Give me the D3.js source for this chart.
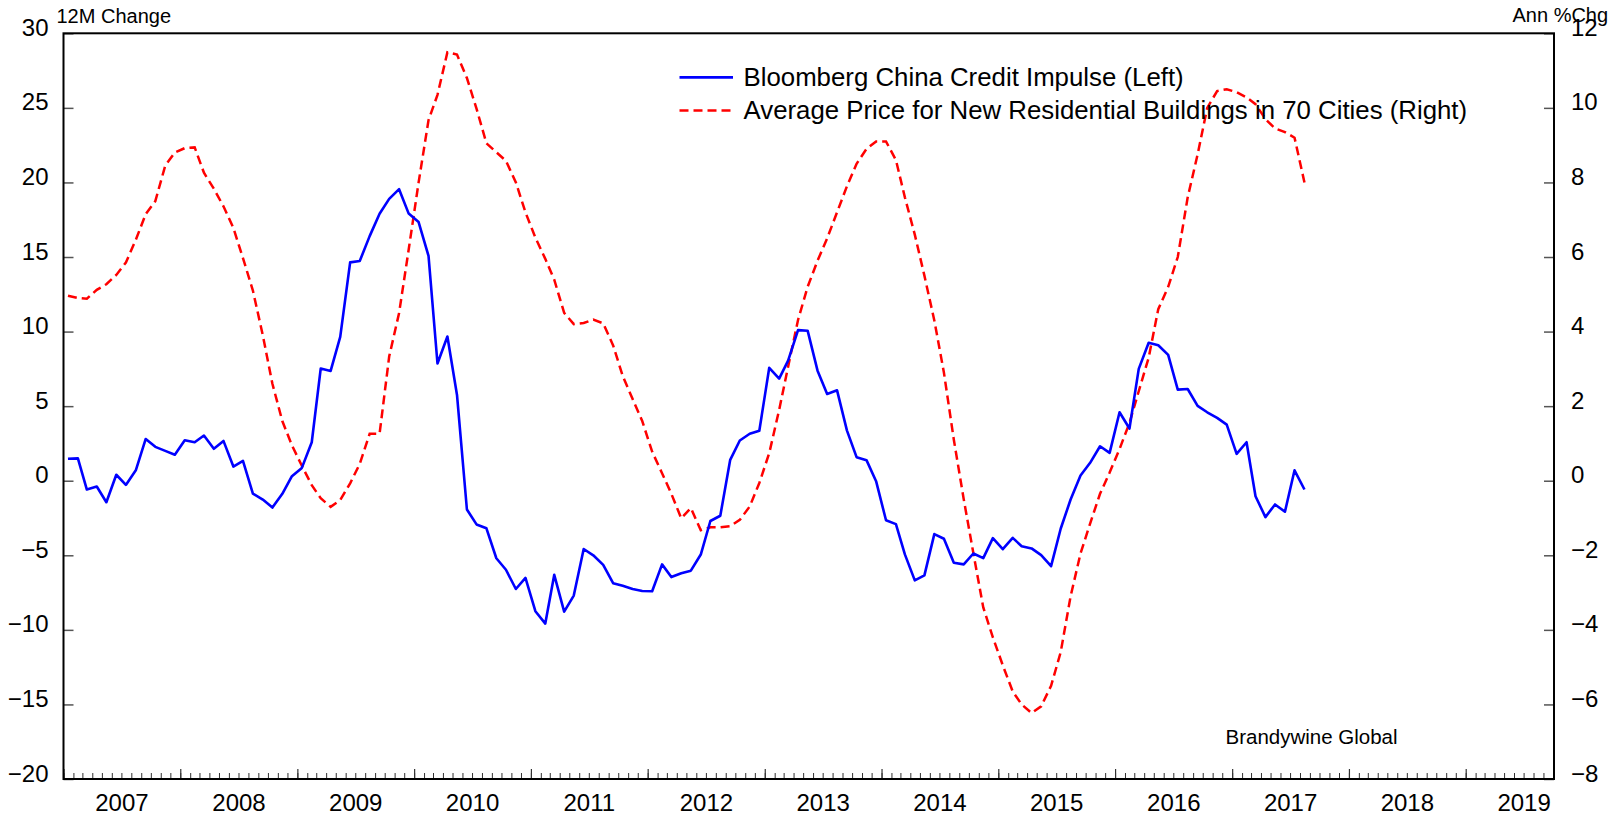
<!DOCTYPE html>
<html><head><meta charset="utf-8">
<script src="https://cdn.jsdelivr.net/npm/d3@7"></script>
<style>
html,body{margin:0;padding:0;background:#fff;}
text{font-family:"Liberation Sans",Arial,sans-serif;fill:#000;}
</style></head>
<body>
<svg id="chart" width="1619" height="821"></svg>
<script>
// ---- data (monthly, Jan 2007 .. Aug 2017) ----
const startYear = 2007, startMonth = 0;
const creditImpulse = [
 1.47,1.5,-0.59,-0.39,-1.44,0.4,-0.28,0.7,2.8,2.27,2.0,1.74,
 2.71,2.58,3.03,2.14,2.67,0.95,1.33,-0.86,-1.26,-1.8,-0.88,0.3,
 0.86,2.58,7.52,7.36,9.64,14.64,14.73,16.4,17.9,18.9,19.55,17.91,
 17.34,15.07,7.86,9.67,5.75,-1.93,-2.93,-3.19,-5.2,-5.97,-7.26,-6.52,
 -8.75,-9.58,-6.31,-8.78,-7.7,-4.58,-5.0,-5.64,-6.87,-7.05,-7.26,-7.39,
 -7.41,-5.61,-6.46,-6.2,-6.03,-4.95,-2.7,-2.35,1.4,2.7,3.15,3.35,
 7.57,6.85,8.05,10.1,10.06,7.38,5.82,6.06,3.36,1.58,1.38,-0.03,
 -2.65,-2.91,-4.94,-6.68,-6.35,-3.58,-3.89,-5.5,-5.61,-4.88,-5.19,-3.85,
 -4.59,-3.83,-4.39,-4.54,-4.99,-5.73,-3.22,-1.26,0.35,1.2,2.31,1.87,
 4.59,3.5,7.5,9.25,9.08,8.44,6.11,6.15,5.02,4.59,4.21,3.76,
 1.8,2.58,-1.04,-2.44,-1.59,-2.08,0.7,-0.59
];
const housePrice = [
 4.96,4.9,4.88,5.12,5.27,5.52,5.85,6.46,7.15,7.5,8.45,8.8,
 8.92,8.94,8.26,7.83,7.36,6.78,5.97,5.1,3.9,2.6,1.6,0.95,
 0.4,-0.12,-0.47,-0.7,-0.52,-0.07,0.45,1.26,1.26,3.33,4.5,6.2,
 8.0,9.67,10.35,11.49,11.43,10.8,9.98,9.05,8.81,8.58,8.0,7.2,
 6.52,5.95,5.39,4.5,4.2,4.23,4.32,4.22,3.63,2.81,2.19,1.6,
 0.78,0.2,-0.35,-1.01,-0.73,-1.33,-1.25,-1.25,-1.22,-1.05,-0.69,-0.06,
 0.74,1.9,3.06,4.31,5.2,5.9,6.5,7.2,7.9,8.5,8.9,9.1,
 9.1,8.6,7.6,6.6,5.5,4.3,2.9,1.1,-0.5,-1.94,-3.4,-4.2,
 -4.95,-5.65,-6.0,-6.23,-6.05,-5.5,-4.6,-3.1,-1.95,-1.15,-0.35,0.22,
 0.85,1.55,2.4,3.3,4.6,5.2,6.0,7.6,8.75,10.0,10.45,10.5,
 10.42,10.28,10.1,9.7,9.45,9.35,9.2,8.0
];
const leftTicks = [-20,-15,-10,-5,0,5,10,15,20,25,30];
const rightTicks = [-8,-6,-4,-2,0,2,4,6,8,10,12];
const yearLabels = [2007,2008,2009,2010,2011,2012,2013,2014,2015,2016,2017,2018,2019];
const seriesNames = ["Bloomberg China Credit Impulse (Left)","Average Price for New Residential Buildings in 70 Cities (Right)"];

// ---- layout ----
const L = 63.5, R = 1554, T = 33.3, B = 779;
const svg = d3.select("#chart");

const x = d3.scaleTime().domain([new Date(2007,0,1), new Date(2019,9,4)]).range([L,R]);
const yL = d3.scaleLinear().domain([-20,30]).range([B,T]);
const yR = d3.scaleLinear().domain([-8,12]).range([B,T]);

const dateOf = i => new Date(startYear, startMonth + i, 15);

// axes: left
const gL = svg.append("g").attr("transform",`translate(${L},0)`)
  .call(d3.axisLeft(yL).tickValues(leftTicks).tickSizeInner(-10).tickSizeOuter(0).tickPadding(15));
gL.select(".domain").remove();
gL.selectAll(".tick line").attr("stroke","#555").attr("stroke-width",1.5);
gL.selectAll(".tick text").attr("dy","2px").style("font-size","24px").attr("fill","#000");

// right
const gR = svg.append("g").attr("transform",`translate(${R},0)`)
  .call(d3.axisRight(yR).tickValues(rightTicks).tickSizeInner(-10).tickSizeOuter(0).tickPadding(17));
gR.select(".domain").remove();
gR.selectAll(".tick line").attr("stroke","#555").attr("stroke-width",1.5);
gR.selectAll(".tick text").attr("dy","2px").style("font-size","24px").attr("fill","#000");

// bottom minor (monthly) ticks
const gMin = svg.append("g").attr("transform",`translate(0,${B})`)
  .call(d3.axisBottom(x).ticks(d3.timeMonth.every(1)).tickSizeInner(-6).tickSizeOuter(0).tickFormat(""));
gMin.select(".domain").remove();
gMin.selectAll(".tick line").attr("stroke","#333").attr("stroke-width",1);
// major (yearly)
const gMaj = svg.append("g").attr("transform",`translate(0,${B})`)
  .call(d3.axisBottom(x).ticks(d3.timeYear.every(1)).tickSizeInner(-10).tickSizeOuter(0).tickFormat(""));
gMaj.select(".domain").remove();
gMaj.selectAll(".tick line").attr("stroke","#333").attr("stroke-width",1.2);
// year labels centred mid-year
const gLab = svg.append("g").attr("transform",`translate(0,${B})`)
  .call(d3.axisBottom(x).tickValues(yearLabels.map(y=>new Date(y,6,1))).tickSize(0).tickPadding(0).tickFormat(d3.timeFormat("%Y")));
gLab.select(".domain").remove();
gLab.selectAll(".tick text").attr("dy",null).attr("y",32).style("font-size","24px").attr("fill","#000");

// frame
svg.append("rect").attr("x",L).attr("y",T).attr("width",R-L).attr("height",B-T)
  .attr("fill","none").attr("stroke","#000").attr("stroke-width",2);

// lines
const blueLine = d3.line().x((d,i)=>x(dateOf(i))).y(d=>yL(d));
const redLine = d3.line().x((d,i)=>x(dateOf(i))).y(d=>yR(d));
svg.append("path").datum(housePrice).attr("d",redLine)
  .attr("fill","none").attr("stroke","#ff0000").attr("stroke-width",2.5).attr("stroke-dasharray","9,5");
svg.append("path").datum(creditImpulse).attr("d",blueLine)
  .attr("fill","none").attr("stroke","#0000ff").attr("stroke-width",2.6).attr("stroke-linejoin","round");

// axis titles
svg.append("text").attr("x",56.5).attr("y",22.7).style("font-size","20px").text("12M Change");
svg.append("text").attr("x",1512.5).attr("y",22).style("font-size","20px").text("Ann %Chg");

// legend
const leg = svg.append("g");
leg.append("line").attr("x1",679.5).attr("x2",733).attr("y1",77.4).attr("y2",77.4)
  .attr("stroke","#0000ff").attr("stroke-width",2.6);
leg.append("line").attr("x1",679.5).attr("x2",733).attr("y1",110.5).attr("y2",110.5)
  .attr("stroke","#ff0000").attr("stroke-width",2.5).attr("stroke-dasharray","9,5");
leg.append("text").attr("x",743.5).attr("y",86).style("font-size","25.8px").text(seriesNames[0]);
leg.append("text").attr("x",743.5).attr("y",119).style("font-size","25.8px").text(seriesNames[1]);

// source
svg.append("text").attr("x",1225.5).attr("y",744).style("font-size","20.5px").text("Brandywine Global");
</script>
</body></html>
